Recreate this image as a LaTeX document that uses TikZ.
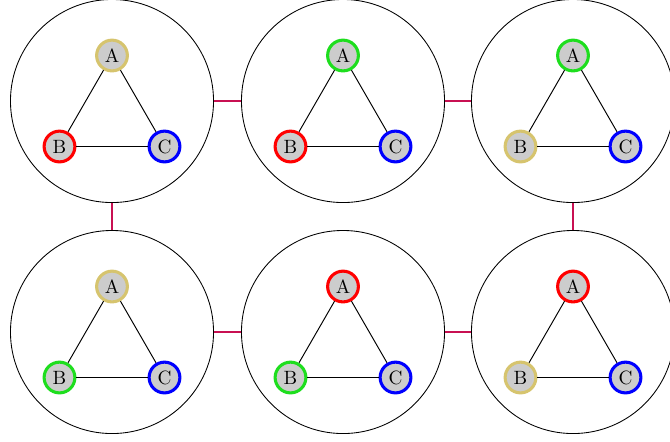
\documentclass[tikz,border=0pt]{standalone}
\definecolor{cy}{RGB}{214,196,110}
\definecolor{cr}{RGB}{255,0,0}
\definecolor{cg}{RGB}{30,222,30}
\definecolor{cb}{RGB}{0,0,255}
\definecolor{conncol}{RGB}{200,16,82}
\begin{document}
\begin{tikzpicture}[x=0.52pt,y=-0.52pt,
  group/.style={draw=black,line width=0.45pt,circle,minimum size=105.6pt,inner sep=0pt},
  vert/.style={circle,fill=black!20,line width=1.6pt,minimum size=16pt,inner sep=0pt},
  edge/.style={draw=black,line width=0.5pt},
  conn/.style={draw=conncol,line width=0.6pt}]
\useasboundingbox (0,0) rectangle (670,441);
\foreach \i/\x/\y/\ca/\cbb in {1/112/101/cy/cr,2/343/101/cg/cr,3/573/101/cg/cy,4/112/332/cy/cg,5/343/332/cr/cg,6/573/332/cr/cy}{
  \node[group] (g\i) at (\x,\y) {};
  \node[vert,draw=\ca] (n\i a) at (\x,\y-45.5) {A};
  \node[vert,draw=\cbb] (n\i b) at (\x-52.5,\y+45.5) {B};
  \node[vert,draw=cb] (n\i c) at (\x+52.5,\y+45.5) {C};
  \draw[edge] (n\i a) -- (n\i b);
  \draw[edge] (n\i a) -- (n\i c);
  \draw[edge] (n\i b) -- (n\i c);
}
\draw[conn] (g1) -- (g2);
\draw[conn] (g2) -- (g3);
\draw[conn] (g1) -- (g4);
\draw[conn] (g3) -- (g6);
\draw[conn] (g4) -- (g5);
\draw[conn] (g5) -- (g6);
\end{tikzpicture}
\end{document}
